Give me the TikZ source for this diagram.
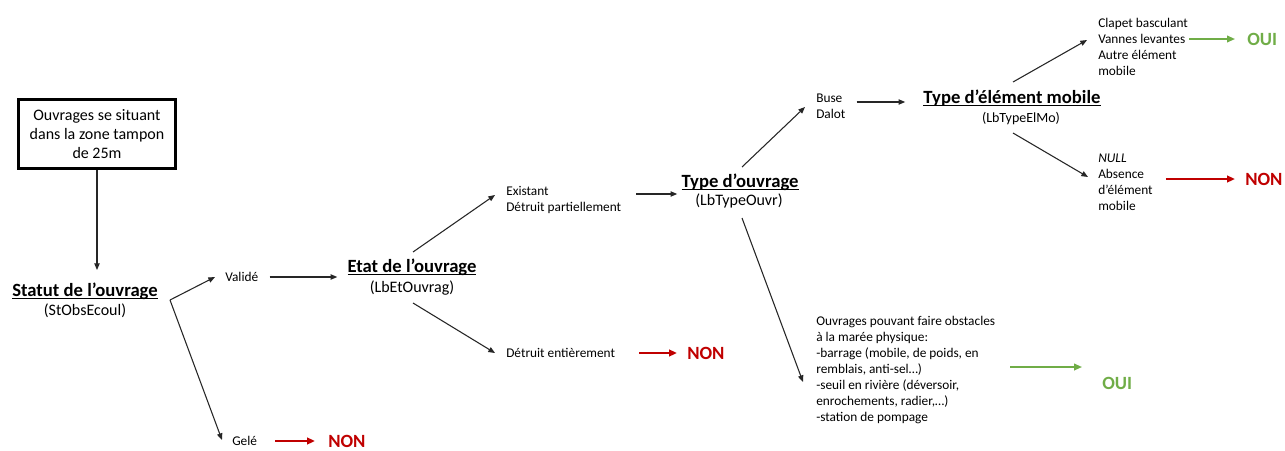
\documentclass[tikz,border=0pt]{standalone}
\usepackage{fontspec}
\setmainfont{Carlito}
\usetikzlibrary{arrows.meta,calc}
\definecolor{nonred}{HTML}{C00000}
\definecolor{ouigreen}{HTML}{70AD47}
\newcommand\fsmall{\fontsize{10pt}{12pt}\selectfont}
\newcommand\ftitle{\fontsize{14pt}{16pt}\selectfont\bfseries}
\newcommand\fsubt{\fontsize{12pt}{14pt}\selectfont}
\newcommand\fmain{\fontsize{12pt}{14.3pt}\selectfont}
\newcommand\fverdict{\fontsize{14pt}{16pt}\selectfont\bfseries}
\newsavebox\ulbox
\newcommand\ulin[1]{\sbox\ulbox{#1}\rlap{\rule[-2.3pt]{\wd\ulbox}{1.1pt}}\usebox\ulbox}
\begin{document}
\begin{tikzpicture}[x=0.75pt,y=-0.75pt,
  txt/.style={inner sep=0pt, font=\fsmall, align=left, anchor=west},
  ttl/.style={inner sep=0pt, font=\ftitle},
  subt/.style={inner sep=0pt, font=\fsubt},
  verdict/.style={inner sep=0pt, font=\fverdict, anchor=west},
  arr/.style={draw=black!85, line width=0.8pt, -{Triangle[length=5pt,width=4pt]}},
  redarr/.style={draw=nonred, line width=1.5pt, -{Triangle[length=6pt,width=5pt]}},
  greenarr/.style={draw=ouigreen, line width=1.3pt, -{Triangle[length=6pt,width=5pt]}},
  startbox/.style={draw=black, line width=2.25pt, minimum width=118pt, minimum height=52pt, inner sep=2pt, align=center, font=\fmain}
]
\fill[white] (0,0) rectangle (1285,450);
\useasboundingbox (0,0) rectangle (1285,450);

% start box
\node[startbox] (box) at (97,134) {Ouvrages se situant\\dans la zone tampon\\de 25m};

% Statut
\node[ttl] (statutT) at (85,291) {\ulin{Statut de l’ouvrage}};
\node[subt] (statutS) at (85,311) {(StObsEcoul)};
\node[txt] (valide) at (225,277) {Validé};
\node[txt] (gele) at (232,441) {Gelé};
\node[verdict, text=nonred] (non1) at (328,441) {NON};

% Etat
\node[ttl] (etatT) at (412,267) {\ulin{Etat de l’ouvrage}};
\node[subt] (etatS) at (412,288) {(LbEtOuvrag)};
\node[txt] (exist) at (506,200) {Existant\\Détruit partiellement};
\node[txt] (detent) at (506,353) {Détruit entièrement};
\node[verdict, text=nonred] (non2) at (687,353) {NON};

% Type d'ouvrage
\node[ttl] (typeoT) at (740,182) {\ulin{Type d’ouvrage}};
\node[subt] (typeoS) at (739,201) {(LbTypeOuvr)};
\node[txt] (buse) at (816,106) {Buse\\Dalot};
\node[txt] (ouv) at (816,370) {Ouvrages pouvant faire obstacles\\à la marée physique:\\-barrage (mobile, de poids, en\\remblais, anti-sel…)\\-seuil en rivière (déversoir,\\enrochements,  radier,…)\\-station de pompage};
\node[verdict, text=ouigreen] (oui2) at (1102,383) {OUI};

% Type d'element mobile
\node[ttl] (typeeT) at (1012,98) {\ulin{Type d’élément mobile}};
\node[txt, font=\fsmall\fontsize{10.5pt}{12pt}\selectfont, anchor=center] (typeeS) at (1021,119) {(LbTypeElMo)};
\node[txt] (clapet) at (1098,47) {Clapet basculant\\Vannes levantes\\Autre élément\\mobile};
\node[verdict, text=ouigreen] (oui1) at (1247,39) {OUI};
\node[txt] (null) at (1098,182) {\textit{NULL}\\Absence\\d’élément\\mobile};
\node[verdict, text=nonred] (non3) at (1245,179) {NON};

% connectors
\draw[arr] (box.south) -- ($(statutT.center)+(12,-21)$);
\draw[arr] ($(statutT.center)+(85,9)$) -- ($(valide.west)+(-10,0)$);
\draw[arr] ($(statutT.center)+(85,9)$) -- ($(gele.west)+(-10,-1)$);
\draw[redarr] ($(gele.east)+(18,0)$) -- ($(non1.west)+(-13,0)$);

\draw[arr] ($(valide.east)+(11,0)$) -- ($(etatT.west)+(-10,10)$);
\draw[arr] ($(etatT.center)+(1,-15)$) -- ($(exist.west)+(-11,-5)$);
\draw[arr] ($(etatS.center)+(1,15)$) -- ($(detent.west)+(-11,0)$);
\draw[redarr] ($(detent.east)+(24,0)$) -- ($(non2.west)+(-10,0)$);

\draw[arr] ($(exist.east)+(15,-6)$) -- ($(typeoT.west)+(-4,12)$);
\draw[arr] ($(typeoT.center)+(2,-15)$) -- ($(buse.west)+(-11,1)$);
\draw[arr] ($(typeoS.center)+(3,17)$) -- ($(ouv.west)+(-13,12)$);
\draw[greenarr] ($(ouv.east)+(15,-3)$) -- ($(oui2.west)+(-20,-16)$);

\draw[arr] ($(buse.east)+(11,-4)$) -- ($(typeeT.west)+(-18,4)$);
\draw[arr] ($(typeeT.center)+(1,-16)$) -- ($(clapet.west)+(-11,-7)$);
\draw[arr] ($(typeeS.center)+(-8,14)$) -- ($(null.west)+(-10,-5)$);
\draw[greenarr] ($(clapet.east |- oui1.west)+(1,0)$) -- ($(oui1.west)+(-12,0)$);
\draw[redarr] ($(null.east)+(13,-3)$) -- ($(non3.west)+(-10,0)$);
\end{tikzpicture}
\end{document}
